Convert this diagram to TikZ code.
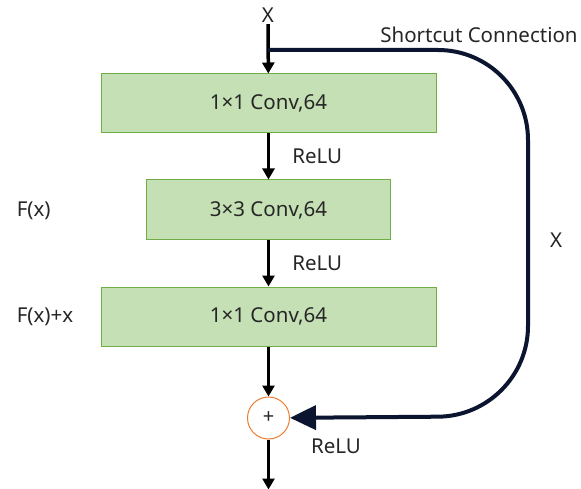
\documentclass[tikz,border=0pt]{standalone}
\usepackage{fontspec}
\setmainfont{Noto Sans}
\usetikzlibrary{arrows.meta,positioning}
\definecolor{convfill}{HTML}{C5E0B4}
\definecolor{convedge}{HTML}{70AD47}
\definecolor{addedge}{HTML}{ED7D31}
\definecolor{skipline}{HTML}{0B1530}

\begin{document}
\begin{tikzpicture}[x=1pt,y=-1pt,->,>={Triangle[width=12pt,length=11pt]},line width=3.5pt,node distance=46pt,text=black!85,font=\fontsize{20.5}{24}\selectfont,conv node/.style={rectangle,draw=convedge,fill=convfill,line width=1pt,minimum height=59pt},add node/.style={circle,draw=addedge,line width=1pt,minimum size=42pt,inner sep=0pt,font=\fontsize{20}{22}\selectfont},text node/.style={inner sep=0pt}]

        \useasboundingbox[fill=white] (0,0) rectangle (581,489);

        \node[text node] (X) at (268,15) {X};
        \node[conv node,minimum width=335pt] (C1) at (268.5,103.5) {1×1 Conv,64};
        \node[conv node,minimum width=244pt,minimum height=60pt] (C2) [below=of C1] {3×3 Conv,64};
        \node[conv node,minimum width=335pt] (C3) [below=of C2] {1×1 Conv,64};
        \node[add node] (add) [below=50pt of C3] {+};
        \coordinate[below=50pt of add] (out);
        \coordinate (split) at (268,50);

        \path[every node/.style={text node}]
        (X) edge (C1)
        (C1) edge node[right=22pt] (relu1) {ReLU} (C2)
        (C2) edge node[right=22pt] (relu2) {ReLU} (C3)
        (C3) edge (add)
        (add) edge (out);

        \node[text node] (relu3) at (336,446) {ReLU};
        \node[text node,anchor=west] (fx) at (15,211) {F(x)};
        \node[text node,anchor=west] (fxx) at (15,317) {F(x)+x};
        \node[text node] (sc) at (479,35) {Shortcut Connection};
        \node[text node] (xs) at (556,240) {X};

        \draw[skipline,line width=4pt,rounded corners=90pt,-{Triangle[width=24pt,length=26pt]}] (split) -- (528,50) -- (528,416) -- (add);
    \end{tikzpicture}
\end{document}
